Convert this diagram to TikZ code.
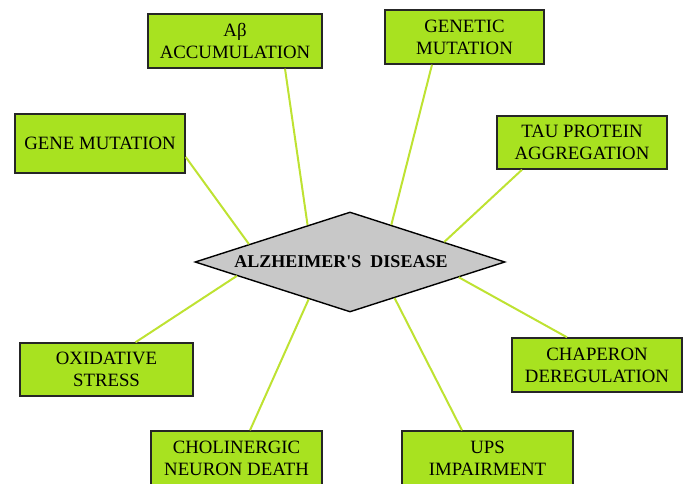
\documentclass[tikz,border=0pt]{standalone}
\usepackage{fontspec}
\setmainfont{Liberation Serif}
\usepackage[svgnames,table]{xcolor}
\usetikzlibrary{shapes,arrows}

\definecolor{boxgreen}{RGB}{168,226,32}
\definecolor{linkgreen}{RGB}{190,226,50}
\definecolor{diseasegray}{RGB}{200,200,200}

\begin{document}
\begin{tikzpicture}[x=1pt,y=-1pt,
    cause/.style={draw=black!85,line width=1.4pt,fill=boxgreen,align=center,inner sep=0pt,font=\fontsize{18.8}{22}\selectfont},
    disease/.style={diamond,draw=black,line width=1.4pt,fill=diseasegray,aspect=3.1,inner sep=0pt,minimum width=310pt,minimum height=100pt,font=\bfseries\fontsize{18}{22}\selectfont},
    link/.style={draw=linkgreen,line width=2pt}]
    \useasboundingbox (0,0) rectangle (683,484);
    \node[disease] (ad) at (350,262) {ALZHEIMER\textquotesingle S\ \ DISEASE\hspace*{18pt}};
    \node[cause, minimum width=174pt, minimum height=54pt] (abeta) at (235,41) {Aβ\\ACCUMULATION};
    \node[cause, minimum width=159pt, minimum height=54pt] (genetic) at (464.5,37) {GENETIC\\MUTATION};
    \node[cause, minimum width=170pt, minimum height=59pt] (genemut) at (100,143.5) {GENE MUTATION};
    \node[cause, minimum width=170pt, minimum height=53pt] (tau) at (582,142.5) {TAU PROTEIN\\AGGREGATION};
    \node[cause, minimum width=173pt, minimum height=53pt] (oxid) at (106.5,369.5) {OXIDATIVE\\STRESS};
    \node[cause, minimum width=170pt, minimum height=54pt] (chaperon) at (597,365) {CHAPERON\\DEREGULATION};
    \node[cause, minimum width=171pt, minimum height=54pt] (cholin) at (236.5,458) {CHOLINERGIC\\NEURON DEATH};
    \node[cause, minimum width=171pt, minimum height=54pt] (ups) at (487.5,458) {UPS\\IMPAIRMENT};
    \path[link]
    ([xshift=50pt]abeta.south) edge (ad.139)
    ([xshift=-32.5pt]genetic.south) edge (ad.42)
    ([yshift=-13.5pt]genemut.east) edge (ad.170)
    ([xshift=-60pt]tau.south) edge (ad.12)
    ([xshift=29pt]oxid.north) edge (ad.187)
    ([xshift=-30pt]chaperon.north) edge (ad.352)
    ([xshift=13.5pt]cholin.north) edge (ad.222)
    ([xshift=-25.5pt]ups.north) edge (ad.321)
;
\end{tikzpicture}
\end{document}
